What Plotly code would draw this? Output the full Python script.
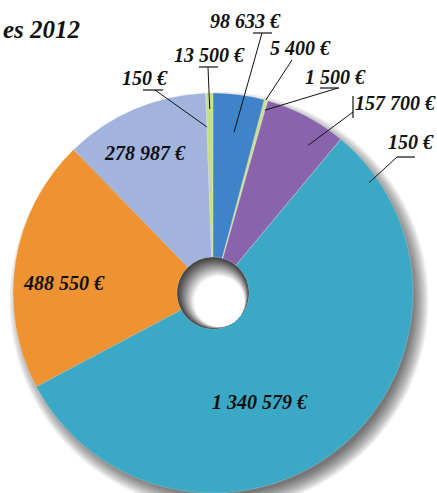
import math
import plotly.graph_objects as go

# ---------------- data ----------------
categories = ["s1", "s2", "s3", "s4", "s5", "s6", "s7", "s8", "s9", "s10"]
value_labels = ["98 633 €", "5 400 €", "1 500 €", "157 700 €", "150 €",
                "1 340 579 €", "488 550 €", "278 987 €", "150 €", "13 500 €"]
values = [98633, 5400, 1500, 157700, 150, 1340579, 488550, 278987, 150, 13500]
title_text = "es 2012"

# ---------------- styles ----------------
colors = ["#3F84C8", "#C8DF8A", "#C8DF8A", "#8A63AD", "#8A63AD",
          "#3BA9C5", "#EF9231", "#A2B4DE", "#A2B4DE", "#C8DF8A"]

W, H = 437, 493
CX, CY, R = 213, 293, 200          # pie centre / radius in pixels
HOLE = 0.18
FONT = dict(family="Liberation Serif", size=20, color="#111111",
            weight="bold", style="italic")

# label layout (pixel positions of text, leader settings)
label_layout = {
    0: dict(t=(245, 21), end=(262, 33), ul=(253, 272, 33), r=0.81),
    1: dict(t=(300, 48), end=(292, 60), r=1.0),
    2: dict(t=(335, 77), end=(338, 88), ul=(320, 339, 88), r=0.95),
    3: dict(t=(395, 103), end=(353, 112), vbar=(353, 96, 118), r=0.88, da=5),
    4: dict(t=(411, 142), end=(397, 157), ul=(397, 415, 157), r=0.955, da=15),
    5: dict(t=(260, 402)),
    6: dict(t=(64, 283)),
    7: dict(t=(145, 153)),
    8: dict(t=(145, 78), end=(155, 90), ul=(143, 163, 90), r=0.83),
    9: dict(t=(209, 55), end=(208, 67), ul=(199, 218, 67), r=0.92),
}


def px(x):
    return x / W


def py(y):
    return 1 - y / H


fig = go.Figure()
fig.add_trace(go.Pie(
    labels=categories,
    values=values,
    sort=False,
    direction="clockwise",
    rotation=0,
    hole=HOLE,
    textinfo="none",
    hoverinfo="skip",
    marker=dict(colors=colors, line=dict(color="rgba(255,255,255,0.25)", width=0.8)),
    domain=dict(x=[px(CX - R), px(CX + R)], y=[py(CY + R), py(CY - R)]),
    showlegend=False,
))

total = sum(values)
cum = 0
mid_angles = []
for v in values:
    mid_angles.append((cum + v / 2) / total * 360)
    cum += v

shapes = []
annotations = []

# soft drop shadow (bottom-right)
for k in range(10):
    rr = R - 6 + k * 1.7
    sx, sy = CX + 6, CY + 8
    shapes.append(dict(type="circle", xref="paper", yref="paper", layer="below",
                       x0=px(sx - rr), x1=px(sx + rr), y0=py(sy + rr), y1=py(sy - rr),
                       fillcolor="rgba(0,0,0,0.07)", line=dict(width=0)))

# shaded hole (sphere look)
hr = R * HOLE
n = 24
for i in range(n + 1):
    t = i / n
    off = t * 13
    rr = hr - off - 0.3
    hx = CX + off * 0.6
    hy = CY + off * 0.8
    g = int(70 + (255 - 70) * min(1.0, t / 0.8) ** 1.1)
    shapes.append(dict(type="circle", xref="paper", yref="paper", layer="above",
                       x0=px(hx - rr), x1=px(hx + rr), y0=py(hy + rr), y1=py(hy - rr),
                       fillcolor=f"rgb({g},{g},{g})", line=dict(width=0)))

for i, txt in enumerate(value_labels):
    lay = label_layout[i]
    tx, ty = lay["t"]
    annotations.append(dict(x=px(tx), y=py(ty), xref="paper", yref="paper",
                            text=txt, showarrow=False,
                            xanchor="center", yanchor="middle", font=FONT))
    if "end" in lay:
        a = math.radians(mid_angles[i] + lay.get("da", 0))
        ar = R * lay["r"]
        ax = CX + ar * math.sin(a)
        ay = CY - ar * math.cos(a)
        ex, ey = lay["end"]
        shapes.append(dict(type="line", xref="paper", yref="paper", layer="above",
                           x0=px(ax), y0=py(ay), x1=px(ex), y1=py(ey),
                           line=dict(color="#111111", width=1)))
    if "ul" in lay:
        u0, u1, uy = lay["ul"]
        shapes.append(dict(type="line", xref="paper", yref="paper", layer="above",
                           x0=px(u0), y0=py(uy), x1=px(u1), y1=py(uy),
                           line=dict(color="#111111", width=1.2)))
    if "vbar" in lay:
        vx, v0, v1 = lay["vbar"]
        shapes.append(dict(type="line", xref="paper", yref="paper", layer="above",
                           x0=px(vx), y0=py(v0), x1=px(vx), y1=py(v1),
                           line=dict(color="#111111", width=1.2)))

annotations.append(dict(x=px(1), y=py(30), xref="paper", yref="paper",
                        text=title_text, showarrow=False,
                        xanchor="left", yanchor="middle",
                        font=dict(family="Liberation Serif", size=25, color="#111111",
                                  weight="bold", style="italic")))

fig.update_layout(
    width=W, height=H,
    margin=dict(l=0, r=0, t=0, b=0),
    paper_bgcolor="white",
    plot_bgcolor="white",
    shapes=shapes,
    annotations=annotations,
)

fig.write_html(
    "out.html",
    config={"displayModeBar": False},
    post_script=("document.body.style.margin='0';"
                 "document.body.style.overflow='hidden';"
                 "document.documentElement.style.overflow='hidden';"),
)
